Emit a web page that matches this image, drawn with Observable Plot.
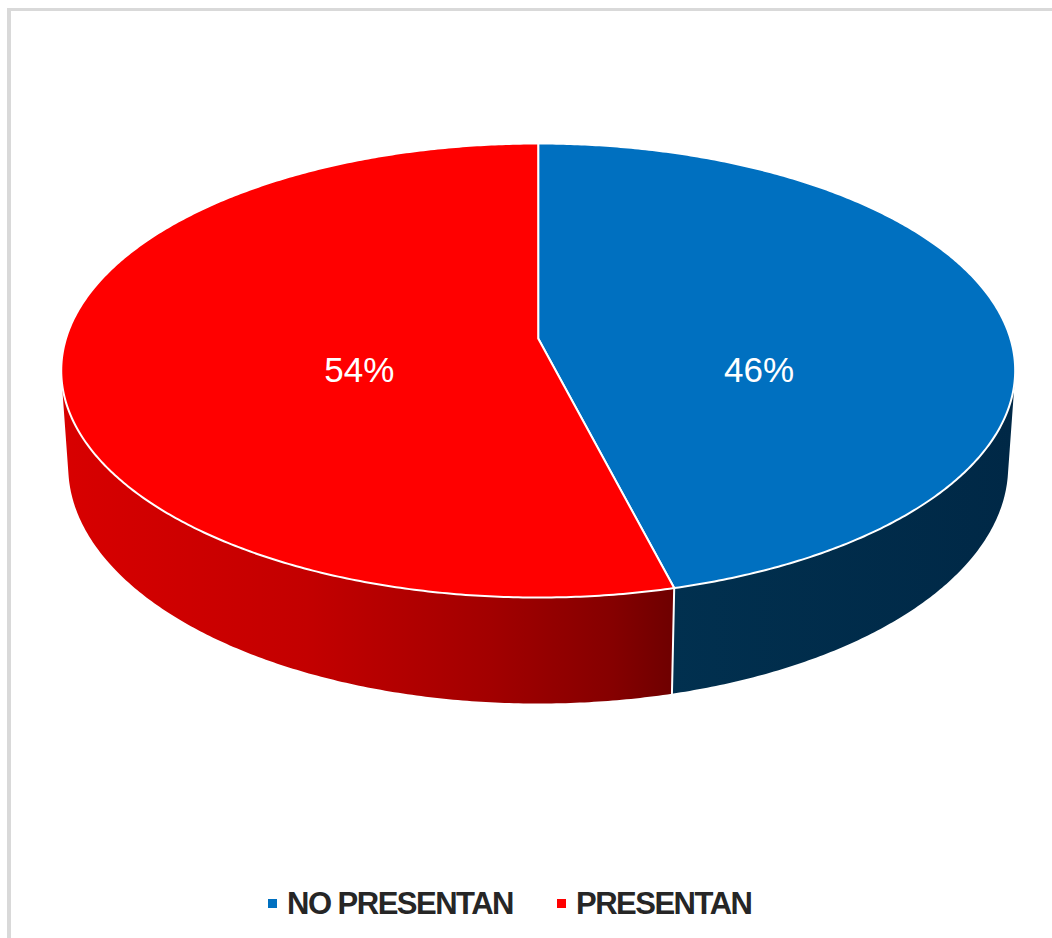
<!DOCTYPE html>
<html>
<head>
<meta charset="utf-8">
<script src="https://cdn.jsdelivr.net/npm/d3@7"></script>
<script src="https://cdn.jsdelivr.net/npm/@observablehq/plot@0.6"></script>
<style>
  body { margin: 0; background: #fff; font-family: "Liberation Sans", Arial, sans-serif; }
  #wrap { position: relative; width: 1052px; height: 938px; overflow: hidden; background: #fff; }
  #frame { position: absolute; left: 7px; top: 8px; width: 1200px; height: 1200px;
           border-left: 4px solid #d9d9d9; border-top: 3px solid #d9d9d9; box-sizing: border-box; }
  #chart { position: absolute; left: 0; top: 0; }
  #legend { position: absolute; left: 268px; top: 888px; height: 31px; display: flex; align-items: center;
            font-weight: bold; font-size: 31px; line-height: 31px; letter-spacing: -1.5px; color: #262626; }
  .sw { width: 9px; height: 9px; display: inline-block; margin-right: 10px; }
  .item { display: flex; align-items: center; }
</style>
</head>
<body>
<div id="wrap">
  <div id="frame"></div>
  <div id="chart"></div>
  <div id="legend"></div>
</div>
<script>
// ---- data ----
const categories = ["NO PRESENTAN", "PRESENTAN"];
const values = [46, 54];
const labels = ["46%", "54%"];
const topColors = ["#0070C0", "#FF0000"];
const sideGradients = ["sideBlue", "sideRed"];

// ---- layout / projection (3D pie in perspective) ----
const W = 1052, H = 860;
const CX = 537.7, CY = 338;        // apex of pie in pixels
const A = 472.2, B = 222.5, C = 96.4, K = 0.141, M = 0.0146;
const rad = Math.PI / 180;

function proj(tDeg, d, r = 1) {
  const t = tDeg * rad;
  const u = r * Math.sin(t), v = -r * Math.cos(t), w = 1 - K * v + M * d;
  return [A * u / w, -(B * v + C * d) / w];
}
function rim(a0, a1, d) {
  const n = Math.max(2, Math.ceil(Math.abs(a1 - a0) / 0.5));
  const out = [];
  for (let i = 0; i <= n; i++) out.push(proj(a0 + (a1 - a0) * i / n, d));
  return out;
}
function crossAt(a) {
  const h = 0.01;
  const p0 = proj(a, 0), p1 = proj(a + h, 0), b = proj(a, 1);
  return (p1[0] - p0[0]) * (b[1] - p0[1]) - (p1[1] - p0[1]) * (b[0] - p0[0]);
}
function findZero(lo, hi) {
  let prev = crossAt(lo);
  for (let a = lo + 0.05; a <= hi; a += 0.05) {
    const c = crossAt(a);
    if (Math.sign(c) !== Math.sign(prev)) return a;
    prev = c;
  }
  return (lo + hi) / 2;
}
const silR = findZero(60, 130);
const silL = findZero(230, 300);

const total = d3.sum(values);
let acc = 0;
const slices = categories.map((c, i) => {
  const a0 = acc / total * 360;
  acc += values[i];
  const a1 = acc / total * 360;
  return { c, i, a0, a1 };
});

// top faces
const tops = slices.map(s => {
  const pts = [[0, 0], ...rim(s.a0, s.a1, 0)];
  return pts.map(([x, y]) => ({ x, y, c: s.c }));
});
// side faces (visible front part only)
const sides = slices.map(s => {
  const a0 = Math.max(s.a0, silR), a1 = Math.min(s.a1, silL);
  if (a1 <= a0) return [];
  const pts = [...rim(a0, a1, 0), ...rim(a1, a0, 1)];
  return pts.map(([x, y]) => ({ x, y, c: s.c }));
});
// separator lines on the side at slice boundaries that are visible
const seps = slices.filter(s => s.a0 > silR && s.a0 < silL)
  .map(s => [proj(s.a0, 0), proj(s.a0, 1)].map(([x, y]) => ({ x, y, c: s.c })));

// label positions: horizontal centroid of each top face, vertical centre of the top ellipse
const ellipseMidY = (proj(0, 0)[1] + proj(180, 0)[1]) / 2;
const labelData = slices.map((s, i) => {
  const poly = tops[i].map(p => [p.x, p.y]);
  const [x] = d3.polygonCentroid(poly);
  return { x, y: ellipseMidY, label: labels[i] };
});

const marks = [];
sides.forEach((pts, i) => {
  if (pts.length) marks.push(Plot.line(pts, { x: "x", y: "y", fill: `url(#${sideGradients[i]})`, stroke: "none", curve: "linear-closed" }));
});
seps.forEach(pts => marks.push(Plot.line(pts, { x: "x", y: "y", stroke: "white", strokeWidth: 2 })));
tops.forEach((pts, i) => {
  marks.push(Plot.line(pts, { x: "x", y: "y", fill: topColors[i], stroke: "white", strokeWidth: 2, strokeLinejoin: "round", curve: "linear-closed" }));
});
marks.push(Plot.text(labelData, { x: "x", y: "y", text: "label", fill: "white", fontSize: 35, fontFamily: "Liberation Sans, Arial, sans-serif" }));

const svg = Plot.plot({
  width: W, height: H,
  marginTop: 0, marginRight: 0, marginBottom: 0, marginLeft: 0,
  x: { domain: [-CX, W - CX], axis: null },
  y: { domain: [CY - H, CY], axis: null },
  style: { background: "transparent", overflow: "visible" },
  marks
});

// gradients for the side faces
const NS = "http://www.w3.org/2000/svg";
const defs = document.createElementNS(NS, "defs");
function grad(id, stops) {
  const g = document.createElementNS(NS, "linearGradient");
  g.setAttribute("id", id);
  g.setAttribute("x1", "0"); g.setAttribute("x2", "1"); g.setAttribute("y1", "0"); g.setAttribute("y2", "0");
  stops.forEach(([o, c]) => {
    const s = document.createElementNS(NS, "stop");
    s.setAttribute("offset", o); s.setAttribute("stop-color", c);
    g.appendChild(s);
  });
  defs.appendChild(g);
}
grad("sideRed", [[0, "#d80000"], [0.4, "#c30000"], [0.7, "#a20000"], [0.9, "#850000"], [1, "#6e0000"]]);
grad("sideBlue", [[0, "#01304f"], [1, "#002846"]]);
svg.insertBefore(defs, svg.firstChild);
document.getElementById("chart").appendChild(svg);

// legend
const legend = document.getElementById("legend");
categories.forEach((c, i) => {
  const item = document.createElement("div");
  item.className = "item";
  if (i > 0) item.style.marginLeft = "44px";
  const sw = document.createElement("span");
  sw.className = "sw";
  sw.style.background = topColors[i];
  const t = document.createElement("span");
  t.textContent = c;
  item.appendChild(sw); item.appendChild(t);
  legend.appendChild(item);
});
</script>
</body>
</html>
